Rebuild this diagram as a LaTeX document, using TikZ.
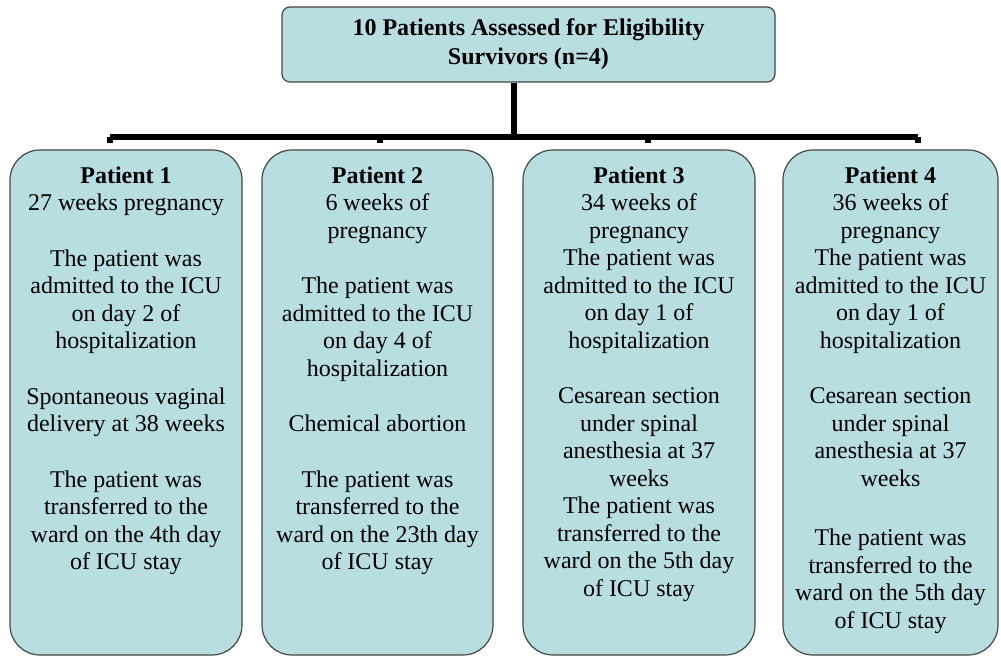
\documentclass[tikz,border=0pt]{standalone}
\usepackage{fontspec}
\setmainfont{Liberation Serif}
\usepackage{xcolor}
\definecolor{boxfill}{RGB}{184,222,226}
\definecolor{boxline}{RGB}{70,70,70}

\begin{document}
\begin{tikzpicture}[x=0.5pt, y=-0.5pt,
      topbox/.style={draw=boxline, fill=boxfill, line width=0.6pt,
                     rounded corners=4pt, minimum width=246.5pt,
                     minimum height=37.5pt, align=center, inner sep=0pt,
                     font=\bfseries\fontsize{12}{14.5}\selectfont},
      pbox/.style={draw=boxline, fill=boxfill, line width=0.6pt,
                   rounded corners=15pt, minimum height=252.5pt, inner sep=0pt},
      ptxt/.style={anchor=north, align=center, inner sep=0pt, yshift=-8.5pt,
                   font=\fontsize{12}{13.75}\selectfont},
      bar/.style={line width=2.6pt}
    ]
      \useasboundingbox (0,0) rectangle (1001,657);

      % Top box
      \node[topbox] (surv) at (528.5,44.5)
        {10 Patients Assessed for Eligibility\\Survivors (n=4)};

      % Patient boxes
      \node[pbox, minimum width=116pt] (p1) at (126,402.5) {};
      \node[pbox, minimum width=115.5pt] (p2) at (377.5,402.5) {};
      \node[pbox, minimum width=116pt] (p3) at (639,402.5) {};
      \node[pbox, minimum width=107.5pt] (p4) at (890.5,402.5) {};

      % Patient 1
      \node[ptxt] (t1) at (p1.north)
        {\textbf{Patient 1}\\27 weeks pregnancy\\[14pt]
         The patient was\\admitted to the ICU\\on day 2 of\\hospitalization\\[14pt]
         Spontaneous vaginal\\delivery at 38 weeks\\[14pt]
         The patient was\\transferred to the\\ward on the 4th day\\of ICU stay};
      % Patient 2
      \node[ptxt] (t2) at (p2.north)
        {\textbf{Patient 2}\\6 weeks of\\pregnancy\\[14pt]
         The patient was\\admitted to the ICU\\on day 4 of\\hospitalization\\[14pt]
         Chemical abortion\\[14pt]
         The patient was\\transferred to the\\ward on the 23th day\\of ICU stay};
      % Patient 3
      \node[ptxt] (t3) at (p3.north)
        {\textbf{Patient 3}\\34 weeks of\\pregnancy\\
         The patient was\\admitted to the ICU\\on day 1 of\\hospitalization\\[14pt]
         Cesarean section\\under spinal\\anesthesia at 37\\weeks\\
         The patient was\\transferred to the\\ward on the 5th day\\of ICU stay};
      % Patient 4
      \node[ptxt] (t4) at (p4.north)
        {\textbf{Patient 4}\\36 weeks of\\pregnancy\\
         The patient was\\admitted to the ICU\\on day 1 of\\hospitalization\\[14pt]
         Cesarean section\\under spinal\\anesthesia at 37\\weeks\\[16pt]
         The patient was\\transferred to the\\ward on the 5th day\\of ICU stay};

      % connectors
      \coordinate (hub) at (514,137);
      \coordinate (b1) at (110,137);
      \coordinate (b2) at (380,137);
      \coordinate (b3) at (648,137);
      \coordinate (b4) at (918,137);
      \draw[bar] (surv.south -| hub) -- (hub);
      \draw[bar] (b1) -- (b4);
      \foreach \i in {1,...,4}
        \draw[bar] (b\i) -- ++(0,6);
    \end{tikzpicture}
\end{document}
